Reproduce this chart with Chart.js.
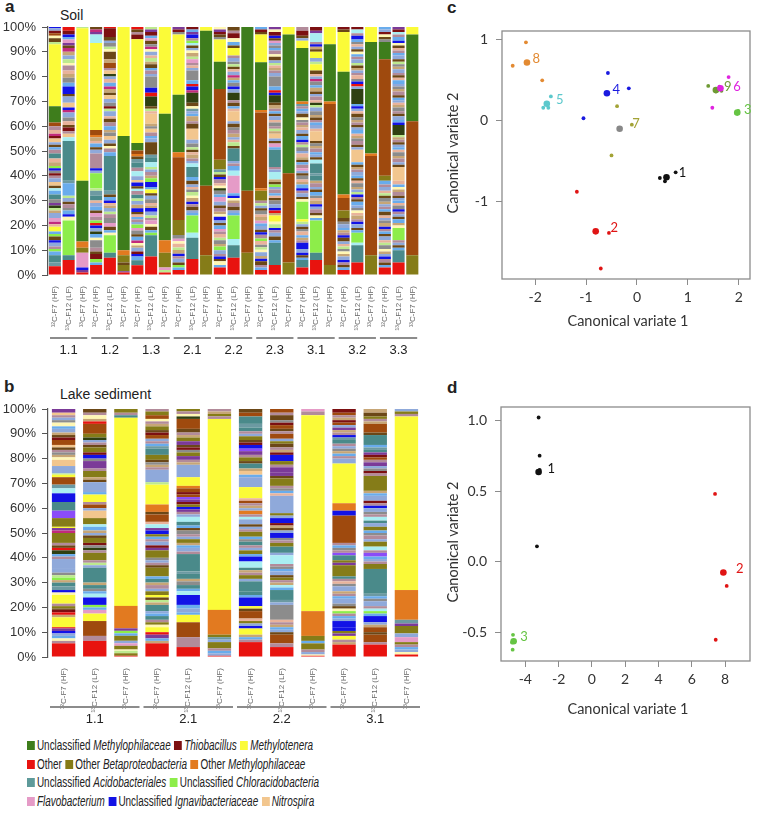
<!DOCTYPE html>
<html>
<head>
<meta charset="utf-8">
<script src="https://cdn.jsdelivr.net/npm/chart.js@4/dist/chart.umd.min.js"></script>
<style>
  body { margin: 0; width: 758px; height: 823px; position: relative; background: #fff; overflow: hidden;
         font-family: "Liberation Sans", Arial, sans-serif; color: #222; }
  canvas { position: absolute; }
  .t { position: absolute; white-space: nowrap; }
  .panel { font-weight: bold; font-size: 17px; }
  .ttl { font-size: 14px; }
  .axt { font-family: Lato, "Open Sans", sans-serif; font-size: 14.5px; color: #333; }
  .rot { transform: translate(-50%, -50%) rotate(-90deg); }
  #legend { position: absolute; left: 27px; top: 736px; font-family: "Liberation Sans", Arial, sans-serif;
            font-size: 14px; line-height: 18.6px; color: #222; white-space: nowrap;
            transform: scaleX(0.71); transform-origin: 0 0; }
  #legend .sw { display: inline-block; width: 11px; height: 9px; margin-right: 3px; vertical-align: 0px; }
  #legend .gap { display: inline-block; width: 5px; }
</style>
</head>
<body>

<div class="t panel" style="left:5px;top:-3px">a</div>
<div class="t ttl" style="left:60px;top:7px">Soil</div>
<div class="t panel" style="left:4px;top:377px">b</div>
<div class="t ttl" style="left:60px;top:386px">Lake sediment</div>
<div class="t panel" style="left:447px;top:-2px">c</div>
<div class="t panel" style="left:447px;top:378px">d</div>

<canvas id="soil" width="425" height="360" style="left:0;top:0"></canvas>
<canvas id="lake" width="425" height="345" style="left:0;top:380px"></canvas>
<canvas id="cvaSoil" width="333" height="360" style="left:425px;top:0"></canvas>
<canvas id="cvaLake" width="333" height="345" style="left:425px;top:380px"></canvas>

<div class="t axt" style="left:628px;top:320px;transform:translate(-50%,-50%)">Canonical variate 1</div>
<div class="t axt rot" style="left:452px;top:153px">Canonical variate 2</div>
<div class="t axt" style="left:628px;top:708px;transform:translate(-50%,-50%)">Canonical variate 1</div>
<div class="t axt rot" style="left:452px;top:542px">Canonical variate 2</div>

<div id="legend">
  <div><span class="sw" style="background:#3e7d1c"></span>Unclassified <i>Methylophilaceae</i><span class="gap"></span><span class="sw" style="background:#7c1012"></span><i>Thiobacillus</i><span class="gap"></span><span class="sw" style="background:#fbfb38"></span><i>Methylotenera</i></div>
  <div><span class="sw" style="background:#e8130f"></span>Other<span class="gap"></span><span class="sw" style="background:#857c18"></span>Other <i>Betaproteobacteria</i><span class="gap"></span><span class="sw" style="background:#e27a20"></span>Other <i>Methylophilaceae</i></div>
  <div><span class="sw" style="background:#5e9a9a"></span>Unclassified <i>Acidobacteriales</i><span class="gap"></span><span class="sw" style="background:#8ded4a"></span>Unclassified <i>Chloracidobacteria</i></div>
  <div><span class="sw" style="background:#e59bc7"></span><i>Flavobacterium</i><span class="gap"></span><span class="sw" style="background:#1212e6"></span>Unclassified <i>Ignavibacteriaceae</i><span class="gap"></span><span class="sw" style="background:#f2c68e"></span><i>Nitrospira</i></div>
</div>

<script>
// ---- sample labels ----
const soilGroups = ["1.1", "1.2", "1.3", "2.1", "2.2", "2.3", "3.1", "3.2", "3.3"];
const lakeGroups = ["1.1", "2.1", "2.2", "3.1"];
const sampleTypes = ["¹²C-F7 (HF)", "¹³C-F12 (LF)", "¹³C-F7 (HF)"];

// ---- relative abundance, each bar read bottom -> top as taxon + percent ----
// oth Other, beta Other Betaproteobacteria, omet Other Methylophilaceae, um Unclassified Methylophilaceae,
// mt Methylotenera, aci Unclassified Acidobacteriales, chl Unclassified Chloracidobacteria, fla Flavobacterium,
// ign Unclassified Ignavibacteriaceae, nit Nitrospira, thi Thiobacillus, the rest are minor taxa
const soil1_1 = [
  "oth3.5 sl1.5 aci3 lb1.5 chl1 mv1 pw1.5 ign1 db1.5 chl1 lb1 mt2 sa1 mg1 fla1.5 pw2 kh1 lg1 dg1 pu1 gy1.5 aci2 lb1.5 cy1 db1 nit1.5 pw1.5 mv1 thi1 gy1 ign1 chl1 kh1.5 sa1.5 aci2 mv1.5 lb1 db1 pw1 nit1.5 thi1 mg1 sa1.5 mv1.5 br1.5 um6.5 mt25 lg1 db1.5 py1 br1 thi1 pw1 ign0.5",
  "oth6 aci2 chl14 py1.5 ign1 lb1.5 gy1 mv1.5 db1 pw1.5 lg1 lb5 sl1 aci16 cy1.5 nit1.5 mv1 thi1.5 db1 sa1.5 gy1.5 pw2 mg1 ign1 nit2 pw2.5 db1 ign3 lb1.5 gy2 kh1.5 sa1.5 mv2 py1 lg1.5 pw1.5 kh1.5 mg1.5 db1 pu1 fla1.5 lb1 ign1 thi1.5 oth1.5",
  "oth1 pu1 ign1 fla6 beta2 omet2.5 um24.5 mt61.5 lg0.5"
];
const soil1_2 = [
  "oth4 lb1 chl1.5 thi2 db1 mv1.5 gy3 py1 lb1.5 dg1 pw1.5 ign1 oth1 chl1 mv1.5 fla1.5 db1 lb1.5 pw1.5 sa1 aci2 sl2 lg1 chl6 pw1 ign1 mv6 pw1.5 db1 lb1.5 sa1 kh1.5 omet1 br2 mt35 cy3.5 pu1 mg1 db1",
  "oth7 aci2 chl7 py1 lb1 db1.5 fla1.5 gy2 mv1.5 lg1 pw1.5 kh1 sa1 ign1 lb1.5 db1 sl1.5 aci14 lb1.5 mv1.5 py1 db1 pw1.5 nit1.5 gy1.5 kh1 lb1.5 mv1.5 db1.5 sa1 pw2 lg1 thi1 gy1.5 pw1.5 nit1.5 db1 kh1.5 mg1 lb1.5 sa1.5 pw1 dg1 nit1.5 mv1 br2 kh1.5 db3 py1 lg1 gy1.5 pw1 db1.5 thi3.5 oth0.5",
  "oth1 pu0.5 beta2.5 db1 beta3 omet2 um46 mt44"
];
const soil1_3 = [
  "oth4 aci2 lb1.5 ign1 thi1 pw1.5 kh1 py1 mg1 lb1.5 db1 gy1.5 fla1 chl1.5 pw1 mv1 lb1 sa1 db1 ign1.5 kh1.5 pw1.5 lg1 aci1.5 mv1.5 cy1 db1 ign1.5 nit1 pw1.5 cy2 mv1.5 aci2 sl1.5 db1 omet1 br1.5 um3 mt42 thi2 mv1 db1 oth1",
  "oth7.5 aci8.5 chl1 lb1 db1.5 py1 fla1.5 mv1 lg1 pw1.5 ign1.5 kh1 sa1 gy1.5 pw1.5 db1 mt1.5 lb1 ign2 chl1.5 kh1 mv1.5 pw1 lg1 cy2 aci2 sl1 db5 pw1.5 lb1 mv1.5 nit1.5 gy1 kh1 nit4 sa1 lg1 db1 dg4 oth1.5 ign2 gy4.5 pw1 mv1.5 lb1 db1.5 kh1 lg1.5 sa1 pw1.5 py1 mg1 gy1 db1.5 fla1 lb1 thi1.5 pu1 lg1",
  "oth1 lg1 fla1 beta6 omet5 um51 mt35"
];
const soil2_1 = [
  "oth2 lb1 chl1 db1 pw1.5 mv1 ign1 kh1.5 lg1 sa1.5 py1 fla1 gy1.5 beta6 br25 omet2 um23 mt24 gy1 thi1 pu1",
  "oth6.5 aci8.5 cy2 chl7 lb1 pw1 db1.5 mv1 ign1 kh1.5 py1 lg1.5 gy1 sa1 pw1 db1.5 lb1.5 aci4 cy1.5 pw1 mv1 kh1.5 sa1 db1 lg1 gy1.5 pw1.5 nit4.5 db2 mv1 kh2 lb1 pw1 sl1 py1 db1.5 dg4 mg1 ign1.5 oth1 lb1.5 gy4 pw1 sa1 mv1 fla1.5 lg1 kh1.5 py1 pw1 db1 cy1 chl1 mv1 ign1.5 pu1 lb1 thi1",
  "beta8 br28 um62.5 mt1.5"
];
const soil2_2 = [
  "oth3 lb1 py1.5 db1 ign1 mv1 pw1.5 chl1.5 kh1 gy1.5 lg1 sa1.5 mv1 fla1 lb1.5 db1 pw1 ign1.5 py1 kh1 mv1.5 db1 pw1.5 fla2 lb1 gy1.5 dg1 py1 sa1 mv1.5 ign1 db1 lg1 sl1 beta4 br28.5 um11 mt9 gy1 db1 thi1 pu1 py1",
  "oth7 aci5 cy2.5 chl9.5 lb1 pw1 db1.5 mv1.5 kh1 py1 ign1 lb1 fla7 cy2 lb2 mv1 pw1 aci5 db1 lg1.5 sa1 pw1 kh1.5 mv1.5 gy1 db1.5 pw1 nit4 sa1 lb1 db1.5 mv1 dg3 pw1.5 ign1 gy1.5 lb1 kh1 mg1 pw1.5 sa1 db1 lg1 gy1 pw1.5 mv1 mt3 db1 lb1.5 py1.5 thi2 mv1 db1.5",
  "beta9 br25 um66"
];
const soil2_3 = [
  "oth2 lb1 mv1 db1.5 ign1 kh1 pw1.5 py1 lg1 gy1 sa1.5 chl1 mv1.5 ign1 db1 pw1.5 lb1 fla1 kh1.5 sa1 gy1.5 db1 pw1 lg1 mv1 beta4 omet1 br30 omet1 um19 mt11 db1 thi1 lb1",
  "oth4 aci9 lb1 db1.5 pw1.5 mv1 ign1 lg1.5 py1 mt2.5 kh1 oth1 ign1 pw1.5 gy1.5 db1 sa1 lb1 mv1.5 pw1 chl1 db1 kh1 cy3 pw1 mv1 aci7 lb1 fla1.5 db1 pw1 nit2 kh1 lg1 mv1 gy1.5 sa1 pw1.5 db1 lb1 mv1 kh1.5 db1 dg3 ign1 oth1 lb1.5 gy4 pw1.5 mv1 kh1 sa1 lg1 pw1 db1.5 py1 mv1.5 lb1 gy1 pw1 fla1 db1 ign1 thi1.5 py1 pu1",
  "beta5 br36 um56 mt3"
];
const soil3_1 = [
  "oth3 aci3 lb1 db1 ign1 pw1.5 ign2.5 mv1 kh1 lb1 sa1.5 gy1 db1 pw1 lg1 mt1 chl7 py1 db1 pw1.5 mv1 ign1 lb1.5 kh1 sa1 gy1.5 db1 pw1 fla1 mv1.5 lb1 db1 kh1 sa1.5 pw1 gy1.5 lg1 mv1 ign1 lb1.5 db1 pw1.5 sa1 kh1 mv1 gy1 py1 db1.5 pw1 lb1 mv1 sl1 omet1 um21.5 mt3 pw1 db1 thi2 mv1.5",
  "oth6 aci3 chl13 lb1 py1 db1 mv1.5 pw1 ign1 kh1.5 sa1 gy1 lb1.5 db1 pw1 mv1.5 kh1 aci2 sl1 aci4 cy1.5 db1 pw1 lb1 mv1.5 kh1 gy1 db1 nit4 sa1 pw1.5 lb1 mv1 db1 kh1 gy1.5 pw1.5 lg1 dg1 sa1 mv1.5 pw1 db1 kh1.5 lb1 gy1.5 mg1 pw1 sa1 db1.5 mt2.5 lg1 pw1.5 mt2.5 db1 kh1 ign1 mv1 cy3.5 pu1 thi1.5",
  "beta4 br65 omet1 um23 mt7"
];
const soil3_2 = [
  "oth2 lb1 db1 mv1 ign1 pw1.5 kh1 py1 gy1 lg1 sa1 pw1 db1.5 ign1 mv1 kh1 lb1 pw1.5 gy1 db1.5 beta3 br5 omet1.5 um49.5 mt16 db1 thi1",
  "oth5 aci7 cy1 chl4 lb1 db1 pw1.5 ign1 mv1 kh1.5 sa1 py1 gy1 pw1 lb1.5 db1 mv1 ign1 lg1 pw1 kh1 gy1.5 sa1 db1 lb1 pw1.5 mv1 kh1 db1 lb1 nit5 pw1 db1 mv1.5 gy1 kh1 sa1 lb1.5 pw1 db1 mv1 kh1 gy1 db1.5 sa1 pw1 ign1 lb1 dg6 pw1 oth1 ign1 gy1 sa1.5 mv1 pw1 kh1 db1 lg1 pw1.5 mv1 lb1 py1 db1 pw1 sa1 gy1 lb1 ign1.5 mv1 cy1.5 thi1",
  "beta8 br40 omet1 um45 mt6"
];
const soil3_3 = [
  "oth3 lb1 db1 mv1.5 ign1 pw1 kh1 py1 gy1.5 lg1 sa1 pw1.5 db1 lb1 mv1 ign1 kh1.5 gy1 pw1 sa1 db1.5 lb1 mv1 pw1 kh1 gy1.5 db1 lg1 sa1 pw1.5 mv1 lb1.5 beta2 br47 um7 gy1 db1 py1 thi1 pw1 lb1",
  "oth5 aci5 lb1 db1 pw1 mv1 chl5 py1 kh1 lb1.5 db1 pw1 mv1 ign1 gy1.5 sa1 lb1 pw1 db1 mv1.5 kh1 py1 lb1 sa1.5 nit5.5 db1 pw1 mv1.5 kh1 gy1.5 sa1 lb1 pw1 db1 mv1 kh1 lg1 dg4 ign1 lb1 pw1.5 db1 mv1 gy1.5 kh1 sa1 pw1 lb1 db1 mv1.5 kh1 gy1 pw1 lb1.5 sa1 db1 mv1 pw1.5 kh1 gy1 lg1 db1 pw1.5 lb1 mv1 sa1 db1 py1 ign1 lb1.5 mv1 cy1 thi1 pu1",
  "beta8 br54 um35 mt3"
];

const lake1_1 = [
  "oth5.5 mv1 py1 lb1 pw1 ign1 pu1 oth0.5 mt4 kh1 oth1 thi1 db0.5 beta1 mv1 mt1.5 mt2 py1 ign1 sl1.5 aci1.5 kh1 chl1 lg1 gy1 pw1.5 pw4 mv1 lb1 dg1.5 oth1 db1 mv1 beta4 mg1 pu1 mt0.5 beta3.5 vi3 aci3.5 ign3.5 cy2 sl1.5 br3 mt1 lg0.5 pw3 nit2.5 py1 kh1 gy1 mv1 db1 nit1 br2 thi1 db1 kh1 pw1.5 lb1 py1.5 gy1 pw1 mv1 nit1 pu1.5",
  "oth6.5 mv2 br6 mt3 fla1.5 lb1 chl1 ign3 cy1.5 lb1 gy1 aci1.5 kh1 aci6 pw1 lg1 mv1 beta3 mv1 dg1 gy1 thi1 beta2 db1 pw1 kh1 lb1.5 cy1 beta2.5 nit3 pw1 br1.5 mv1 mt3 lb1 pw4 db1 kh1 beta2.5 mv1 pu3 gy1 ign1.5 thi1 beta2 db1 mv1 pw1 dg1 beta1.5 br4 oth1 kh1 py1.5 mv1 db1.5",
  "oth0.5 beta1 lg1 py0.5 beta1.5 fla1 pw1 beta2 lb1 chl1 pu1 omet9 mt75.5 aci1 mv1 beta1.5"
];
const lake2_1 = [
  "oth5.5 kh1 lb1 pu1.5 oth1 mt2 py1 beta1 mv1 aci1.5 lb1 pw1 aci2.5 kh1 lg1 db1 mt1 beta1.5 pw1 mv1.5 kh1 aci1.5 lb1 beta3.5 db1 mv1 pw1 gy1 beta3 pu1 thi1 pw1.5 mv1 lb1 beta1 ign1.5 pu1 cy1.5 sa1 br3 db1 omet3 mt8 lg1 pw5 mv1 kh1 gy1 db1 beta2 aci2.5 sl1 lb1 mv1 pw1 br1.5 thi1 db1 beta1.5 kh1 mv1 py1 br1.5 beta1.5 mv1",
  "oth4 mv4 br6 mt3 lb1 pw1.5 lb1.5 ign4 cy1.5 lb1 aci1.5 gy1.5 kh1 aci2 sl1 aci7 mv1 pw1.5 lb1 kh1 beta1.5 pw1 mv1 gy1.5 db1 lb1 aci1.5 cy2 pw1 mv1 pu1 ign1 beta1 thi1 pu1 vi1 br1 thi1 br1.5 omet1 mt3.5 pw5 kh1 mv1 pu1.5 beta1.5 gy1 thi1 db1 pu1.5 beta1.5 kh1 mv1 db1.5 br4 dg1 py1 mv1 beta1",
  "oth0.5 pw1 lb1 mv1 beta2.5 pw1 sl1 beta1 omet10 mt77 mv1 beta1 kh1 mv1"
];
const lake2_2 = [
  "oth6 mv1 lb1 kh1 mt2.5 ign1 pw1 beta1 sa1 br3 db1 mt1 ign3.5 lb1 aci1.5 aci4 pw1 beta1.5 mv1 kh1 aci1 cy2.5 ign2 lb1 beta1.5 pw1 mv1 aci1.5 gy1 lb1 beta2 mv1 pw1 db1 pw2 cy1 mv1 omet1.5 pw1 kh1 mv1 br1 sa1 mt4.5 pw4 lb1 nit1.5 kh1 aci2 db1 beta1.5 mv1 pu1.5 vi1 ign1.5 thi1 db1 beta1.5 pw1 mv1 aci1.5 sl1.5 aci3 br1.5 db1.5",
  "oth4 mv1.5 br3.5 db1 pw1 lb1 kh1 mv1 sa1 gy6 pw1 sl1 aci4 lb1 cy1 kh1 mv1 beta1 db1 pw1.5 lb1 gy1 mv1 cy3.5 pw1 aci2.5 beta1.5 mv1 gy1 ign2 pw1 db1 kh1 thi1 ign2 pw1 beta1 pw7 sa1 lb1 gy1 mv1 beta3 db1 pu1.5 pu2 mv1 beta1.5 ign2.5 thi1 kh1 mv1 db1.5 beta1 pw1 br2 mv1 db1 br1.5 thi1 gy1 db2 mv1 br1.5",
  "oth0.5 py0.5 pw1 mv1 beta2.5 lb1 beta2 omet10 mt79 mv1.5 fla1"
];
const lake3_1 = [
  "oth5 kh1 mv1 mt1.5 pu1 beta1 ign1.5 ign2.5 pw1 lb1 mv1 chl1 py1 db1 gy1 pw2 lb1 mv1 kh1 pw2 gy1 sa1 mv1 aci1 beta4.5 pu1 beta1 aci2 vi1 mv1 gy1 lb1 mv1 br11 ign2 omet3 mt16 pw2 mv1 lb1 kh1 gy1 pw1 mv1 aci1.5 sl1 ign1 mv1 kh1 pu1 pw1 br1 thi1 kh1 mv1 br1 thi1.5",
  "oth5 mv1 br3 db1 br2 kh1 pw1 ign2.5 lb1 chl1 cy1 mv1 pw2 gy1 lb1 sl1 aci10 beta2 mv1 pw1 lb1 vi1.5 mv1 cy1.5 beta2 pw1 mv1.5 gy1 lb1 beta1.5 pw1.5 aci1 cy1.5 mv1 gy1 pw1.5 ign1 mv1 thi1 pw2 lb1 kh1 beta6 mv1 thi1 gy1 pw1 pu1.5 mv1 br1 thi1 pu1 aci1 sl1 lb1 aci4 db1 br3.5 kh1 mv1 beta1 db1.5 kh1.5",
  "oth1 py1 pw1 lb1 mv1 beta1 fla2 pw1.5 beta3 pu1 sl1.5 omet12 mt70 mv1 beta1 pw1"
];

// ---- canonical variate scores (CV1, CV2); small dots = replicates, big dot = group mean ----
const soilGroupNames = ["1", "2", "3", "4", "5", "6", "7", "8", "9"];
const soilPoints = [
  [[0.45, -0.71], [0.55, -0.75], [0.76, -0.64]],
  [[-1.18, -0.88], [-0.55, -1.39], [-0.71, -1.83]],
  [[1.95, 0.09], [1.99, 0.12]],
  [[-0.57, 0.59], [-0.16, 0.40], [-1.05, 0.03]],
  [[-1.84, 0.16], [-1.69, 0.30], [-1.74, 0.16]],
  [[1.80, 0.54], [1.48, 0.16], [1.62, 0.42]],
  [[-0.39, 0.18], [-0.50, -0.43], [-0.10, -0.05]],
  [[-2.18, 0.97], [-2.44, 0.68], [-1.86, 0.50]],
  [[1.40, 0.43], [1.66, 0.37], [1.55, 0.36]]
];
const soilMeans = [[0.58, -0.70], [-0.81, -1.37], [1.97, 0.10], [-0.59, 0.34], [-1.77, 0.21],
                   [1.64, 0.40], [-0.34, -0.10], [-2.16, 0.72], [1.55, 0.38]];
const soilTagAt = [[0.82, -0.64], [-0.52, -1.33], [2.10, 0.14], [-0.48, 0.38], [-1.59, 0.26],
                   [1.89, 0.42], [-0.09, -0.04], [-2.05, 0.76], [1.71, 0.42]];

const lakeGroupNames = ["1", "2", "3"];
const lakePoints = [
  [[-3.2, 1.02], [-3.14, 0.75], [-3.14, 0.65], [-3.3, 0.11]],
  [[7.4, 0.48], [8.1, -0.17], [7.44, -0.55]],
  [[-4.74, -0.515], [-4.76, -0.62], [-4.8, -0.57]]
];
const lakeMeans = [[-3.2, 0.635], [7.9, -0.075], [-4.7, -0.56]];
const lakeTagAt = [[-2.66, 0.66], [8.66, -0.05], [-4.3, -0.53]];

// ---- styles ----
const taxonColors = {
  oth: "#e8130f", beta: "#857c18", omet: "#e27a20", um: "#3e7d1c", mt: "#fbfb38",
  aci: "#4a8a8a", chl: "#8ded4a", fla: "#e59bc7", ign: "#1212e6", nit: "#f2c68e",
  thi: "#7c1012", br: "#9f4a0e", gy: "#8c8c8c", lb: "#69acec", pw: "#8fa9da",
  cy: "#aaeef2", pu: "#7b3a98", vi: "#8b4cf8", dg: "#2f4012", db: "#6b4717",
  mv: "#b28b9a", kh: "#c7a676", py: "#fff7b4", mg: "#c22a7c", sl: "#6c9aa2",
  lg: "#bde98f", sa: "#e9b39b"
};
const soilCvaColors = ["#111111", "#e01414", "#66c444", "#1a1ae0", "#5cc8cc", "#e024e0", "#a3a336", "#e38a32", "#6e9a34"];
const soilMeanColors = ["#111111", "#e01414", "#66c444", "#1a1ae0", "#5cc8cc", "#e024e0", "#888888", "#e38a32", "#6e9a34"];
const lakeCvaColors = ["#111111", "#e01414", "#66c444"];

Chart.defaults.font.family = '"Liberation Sans", Arial, sans-serif';
Chart.defaults.color = "#333";

function parseBar(s) {
  return [...s.matchAll(/([a-z]+)([\d.]+)/g)].map((m) => ({ taxon: m[1], value: +m[2] }));
}

// one dataset per stack level, so every bar keeps its own segment order and colours
function stackDatasets(bars, barPct) {
  const parsed = bars.map(parseBar);
  const totals = parsed.map((p) => p.reduce((a, q) => a + q.value, 0));
  const depth = Math.max(...parsed.map((p) => p.length));
  const sets = [];
  for (let j = 0; j < depth; j++) {
    sets.push({
      data: parsed.map((p, i) => (p[j] ? (p[j].value / totals[i]) * 100 : 0)),
      backgroundColor: parsed.map((p) => (p[j] ? taxonColors[p[j].taxon] : "rgba(0,0,0,0)")),
      borderWidth: 0,
      barPercentage: barPct,
      categoryPercentage: 1,
    });
  }
  return sets;
}

// grey line + group name under every triplet of bars
const groupAxis = {
  id: "groupAxis",
  afterDraw(chart, args, opts) {
    const { ctx } = chart;
    const x = chart.scales.x;
    const step = x.getPixelForValue(1) - x.getPixelForValue(0);
    const y = chart.chartArea.bottom + opts.lineOffset;
    ctx.save();
    opts.groups.forEach((g, k) => {
      const a = x.getPixelForValue(k * 3) - step / 2 + 2;
      const b = x.getPixelForValue(k * 3 + 2) + step / 2 - 2;
      ctx.strokeStyle = "#8c8c8c";
      ctx.lineWidth = 2;
      ctx.beginPath();
      ctx.moveTo(a, y);
      ctx.lineTo(b, y);
      ctx.stroke();
      ctx.fillStyle = "#222";
      ctx.font = '13px "Liberation Sans", Arial, sans-serif';
      ctx.textAlign = "center";
      ctx.textBaseline = "middle";
      ctx.fillText(g, (a + b) / 2, y + opts.labelOffset);
    });
    ctx.restore();
  },
};

function barChart(id, groups, bars, barPct, pad, xHeight, lineOffset, labelOffset) {
  return new Chart(document.getElementById(id), {
    type: "bar",
    data: {
      labels: groups.flatMap(() => sampleTypes),
      datasets: stackDatasets(bars, barPct),
    },
    options: {
      responsive: false,
      animation: false,
      layout: { padding: pad },
      plugins: {
        legend: { display: false },
        tooltip: { enabled: false },
        groupAxis: { groups, lineOffset, labelOffset },
      },
      scales: {
        x: {
          stacked: true,
          grid: { display: false },
          border: { display: false },
          ticks: { autoSkip: false, minRotation: 90, maxRotation: 90, padding: 3, color: "#666", font: { size: 8 } },
          afterFit: (s) => { s.height = xHeight; },
        },
        y: {
          stacked: true,
          min: 0,
          max: 100,
          grid: { drawOnChartArea: false, tickLength: 6, color: "#555" },
          border: { color: "#555", width: 1.2 },
          ticks: { stepSize: 10, padding: 6, color: "#333", font: { size: 13 }, callback: (v) => v + "%" },
          afterFit: (s) => { s.width = 48; },
        },
      },
    },
    plugins: [groupAxis],
  });
}

barChart("soil", soilGroups,
  [...soil1_1, ...soil1_2, ...soil1_3, ...soil2_1, ...soil2_2, ...soil2_3, ...soil3_1, ...soil3_2, ...soil3_3],
  0.88, { top: 27, right: 5 }, 85, 63, 12);

barChart("lake", lakeGroups,
  [...lake1_1, ...lake2_1, ...lake2_2, ...lake3_1],
  0.75, { top: 29, right: 3 }, 68, 50, 12);

// frame + group numbers for the CVA plots
const boxAndTags = {
  id: "boxAndTags",
  afterDraw(chart, args, opts) {
    const { ctx, chartArea: a } = chart;
    const { x, y } = chart.scales;
    ctx.save();
    ctx.strokeStyle = "#8c8c8c";
    ctx.lineWidth = 1.3;
    ctx.strokeRect(a.left, a.top, a.right - a.left, a.bottom - a.top);
    ctx.font = "13px Lato, sans-serif";
    ctx.textBaseline = "middle";
    opts.names.forEach((n, i) => {
      ctx.fillStyle = opts.colors[i];
      ctx.fillText(n, x.getPixelForValue(opts.at[i][0]), y.getPixelForValue(opts.at[i][1]));
    });
    ctx.restore();
  },
};

function cvaChart(id, names, points, means, tagAt, colors, meanColors, xr, yr, pad, yWidth, xHeight, yFmt) {
  const datasets = [];
  points.forEach((pts, i) => {
    datasets.push({
      data: pts.map(([px, py]) => ({ x: px, y: py })),
      pointRadius: 1.9,
      pointBackgroundColor: colors[i],
      pointBorderWidth: 0,
    });
    datasets.push({
      data: [{ x: means[i][0], y: means[i][1] }],
      pointRadius: 3.3,
      pointBackgroundColor: meanColors[i],
      pointBorderWidth: 0,
    });
  });
  const tickFont = { family: "Lato, sans-serif", size: 14 };
  return new Chart(document.getElementById(id), {
    type: "scatter",
    data: { datasets },
    options: {
      responsive: false,
      animation: false,
      layout: { padding: pad },
      plugins: {
        legend: { display: false },
        tooltip: { enabled: false },
        boxAndTags: { names, at: tagAt, colors },
      },
      scales: {
        x: {
          min: xr[0], max: xr[1],
          grid: { drawOnChartArea: false, tickLength: 6, color: "#8c8c8c" },
          border: { display: false },
          ticks: { stepSize: xr[2], includeBounds: false, padding: 4, color: "#333", font: tickFont, callback: (v) => String(v) },
          afterFit: (s) => { s.height = xHeight; },
        },
        y: {
          min: yr[0], max: yr[1],
          grid: { drawOnChartArea: false, tickLength: 6, color: "#8c8c8c" },
          border: { display: false },
          ticks: { stepSize: yr[2], includeBounds: false, padding: 8, color: "#333", font: tickFont, callback: yFmt },
          afterFit: (s) => { s.width = yWidth; },
        },
      },
    },
    plugins: [boxAndTags],
  });
}

cvaChart("cvaSoil", soilGroupNames, soilPoints, soilMeans, soilTagAt, soilCvaColors, soilMeanColors,
  [-2.65, 2.22, 1], [-1.96, 1.11, 1], { top: 31, right: 8 }, 77, 81, (v) => String(v));

cvaChart("cvaLake", lakeGroupNames, lakePoints, lakeMeans, lakeTagAt, lakeCvaColors, lakeCvaColors,
  [-5.46, 9.5, 2], [-0.70, 1.094, 0.5], { top: 27, right: 8 }, 76, 64, (v) => v.toFixed(1));
</script>
</body>
</html>
